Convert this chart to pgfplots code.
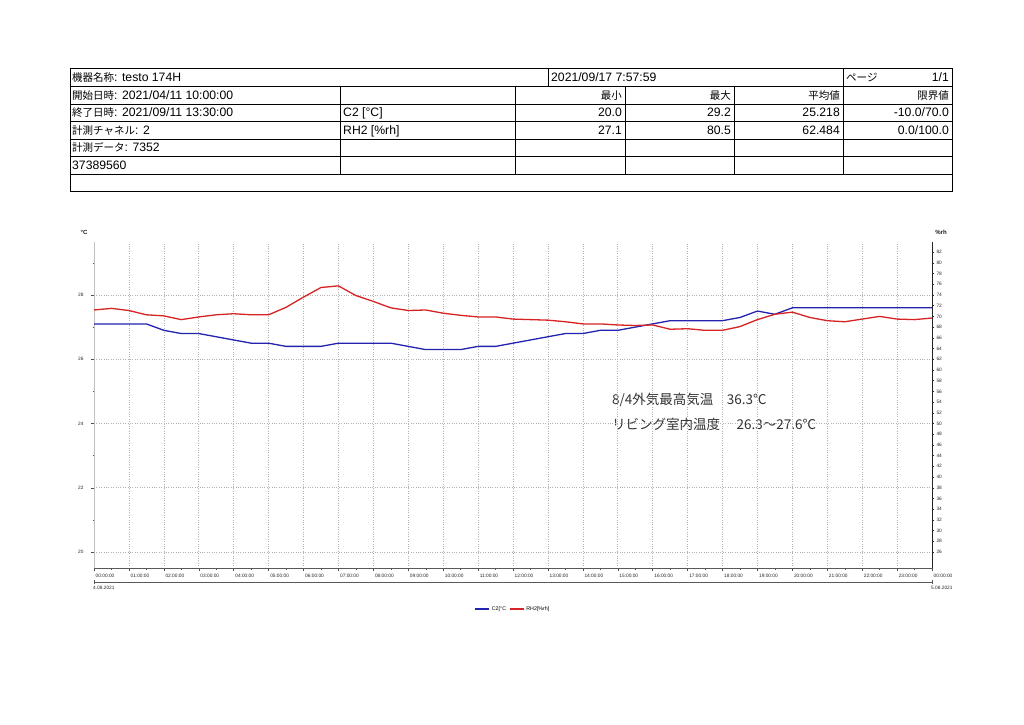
\documentclass[border=0pt]{standalone}
\usepackage{fontspec}
\setmainfont{Liberation Sans}
\newfontfamily\jp{Noto Sans CJK JP}
\usepackage{pgfplots}
\pgfplotsset{compat=1.18}
\usepackage{pgfplotstable}

\definecolor{tblue}{RGB}{35,35,175}
\definecolor{tred}{RGB}{215,35,35}

\pgfplotstableread{
h t
0 27.1
0.5 27.1
1 27.1
1.5 27.1
2 26.9
2.5 26.8
3 26.8
3.5 26.7
4 26.6
4.5 26.5
5 26.5
5.5 26.4
6 26.4
6.5 26.4
7 26.5
7.5 26.5
8 26.5
8.5 26.5
9 26.4
9.5 26.3
10 26.3
10.5 26.3
11 26.4
11.5 26.4
12 26.5
12.5 26.6
13 26.7
13.5 26.8
14 26.8
14.5 26.9
15 26.9
15.5 27.0
16 27.1
16.5 27.2
17 27.2
17.5 27.2
18 27.2
18.5 27.3
19 27.5
19.5 27.4
20 27.6
20.5 27.6
21 27.6
21.5 27.6
22 27.6
22.5 27.6
23 27.6
23.5 27.6
24 27.6
}\tempdata

\pgfplotstableread{
h rh
0 71.2
0.5 71.5
1 71.1
1.5 70.3
2 70.1
2.5 69.4
3 69.9
3.5 70.3
4 70.5
4.5 70.3
5 70.3
5.5 71.7
6 73.6
6.5 75.4
7 75.7
7.5 73.9
8 72.8
8.5 71.6
9 71.1
9.5 71.2
10 70.6
10.5 70.2
11 69.9
11.5 69.9
12 69.5
12.5 69.4
13 69.3
13.5 69.0
14 68.6
14.5 68.6
15 68.4
15.5 68.3
16 68.4
16.5 67.6
17 67.7
17.5 67.4
18 67.4
18.5 68.1
19 69.4
19.5 70.4
20 70.8
20.5 69.8
21 69.2
21.5 69.0
22 69.5
22.5 70.0
23 69.5
23.5 69.4
24 69.7
}\rhdata

\newcommand{\tf}{\fontsize{12.2}{14}\selectfont}
\newcommand{\jf}{\jp\fontsize{10.5}{12}\selectfont}
\newcommand{\tinyf}{\fontsize{4.8}{5.5}\selectfont}

\begin{document}
\begin{tikzpicture}
\begin{scope}[x=1pt,y=1pt]
\path[use as bounding box, fill=white] (0,0) rectangle (1024,724);

% ---- header table ----
\begin{scope}[line width=0.8pt]
\draw (70,656) rectangle (952,532.5);
\foreach \y in {638,620,602.5,585,567.5,550} \draw (70,\y) -- (952,\y);
\foreach \x in {340,515,625,734,843} \draw (\x,638) -- (\x,550);
\draw (548,656) -- (548,638);
\draw (843,656) -- (843,638);
\end{scope}

\begin{scope}[every node/.style={inner sep=0pt, font=\tf}]
% row 1
\node[anchor=base west] at (72,642.8) {{\jf 機器名称}: testo 174H};
\node[anchor=base west] at (551,642.8) {2021/09/17 7:57:59};
\node[anchor=base west] at (846,642.8) {\jf ページ};
\node[anchor=base east] at (949,642.8) {1/1};
% row 2
\node[anchor=base west] at (72,624.8) {{\jf 開始日時}: 2021/04/11 10:00:00};
\node[anchor=base east] at (622,624.8) {\jf 最小};
\node[anchor=base east] at (731,624.8) {\jf 最大};
\node[anchor=base east] at (840,624.8) {\jf 平均値};
\node[anchor=base east] at (949,624.8) {\jf 限界値};
% row 3
\node[anchor=base west] at (72,607) {{\jf 終了日時}: 2021/09/11 13:30:00};
\node[anchor=base west] at (343,607) {C2 [°C]};
\node[anchor=base east] at (622,607) {20.0};
\node[anchor=base east] at (731,607) {29.2};
\node[anchor=base east] at (840,607) {25.218};
\node[anchor=base east] at (949,607) {-10.0/70.0};
% row 4
\node[anchor=base west] at (72,589.5) {{\jf 計測チャネル}: 2};
\node[anchor=base west] at (343,589.5) {RH2 [\%rh]};
\node[anchor=base east] at (622,589.5) {27.1};
\node[anchor=base east] at (731,589.5) {80.5};
\node[anchor=base east] at (840,589.5) {62.484};
\node[anchor=base east] at (949,589.5) {0.0/100.0};
% row 5, 6
\node[anchor=base west] at (72,572) {{\jf 計測データ}: 7352};
\node[anchor=base west] at (72,554.5) {37389560};
\end{scope}

% axis titles
\node[font=\fontsize{6}{7}\selectfont\bfseries, text=gray!20!black] at (84,492) {°C};
\node[font=\fontsize{6}{7}\selectfont\bfseries, text=gray!20!black] at (941,492) {\%rh};

% date line below x axis
\draw[gray!70!black, line width=0.5pt] (94,142) -- (932,142);
\draw[gray!70!black, line width=0.4pt] (94,140) -- (94,144);
\draw[gray!70!black, line width=0.4pt] (932,140) -- (932,144);
\node[anchor=west, inner sep=0pt, font=\tinyf, text=gray!30!black] at (93,136) {4.08.2021};
\node[anchor=west, inner sep=0pt, font=\tinyf, text=gray!30!black] at (931,136) {5.08.2021};

% annotation
\node[anchor=west, inner sep=0pt, font=\jp\fontsize{13.5}{15}\selectfont, text=black!80] at (612,323.5) {8/4外気最高気温　36.3℃};
\node[anchor=west, inner sep=0pt, font=\jp\fontsize{13.5}{15}\selectfont, text=black!80] at (612,300) {リビング室内温度　 26.3～27.6℃};
\end{scope}

% ---- temperature axis ----
\begin{axis}[
  at={(94pt,156pt)}, anchor=south west, scale only axis,
  width=838pt, height=326pt,
  xmin=0, xmax=24, ymin=19.5, ymax=29.65,
  axis x line*=bottom, axis y line*=left,
  x axis line style={-, gray!70!black, line width=0.5pt},
  y axis line style={-, gray!50, line width=0.5pt},
  xtick={0,...,24},
  xticklabels={00:00:00,01:00:00,02:00:00,03:00:00,04:00:00,05:00:00,06:00:00,07:00:00,08:00:00,09:00:00,10:00:00,11:00:00,12:00:00,13:00:00,14:00:00,15:00:00,16:00:00,17:00:00,18:00:00,19:00:00,20:00:00,21:00:00,22:00:00,23:00:00,00:00:00},
  minor x tick num=1,
  ytick={20,22,...,28}, minor ytick={21,23,...,29},
  tick align=outside, major tick length=3pt, minor tick length=1.5pt,
  tick style={gray!60!black, line width=0.4pt},
  grid=major, grid style={dotted, gray!60, line width=0.6pt},
  ticklabel style={font=\tinyf, text=gray!30!black},
  xticklabel style={anchor=north west, inner sep=0pt, yshift=-3pt, xshift=1.5pt},
  yticklabel style={xshift=-4pt},
  /pgf/number format/assume math mode=true,
]
\addplot[tblue, line width=1.3pt] table[x=h, y=t] {\tempdata};
\end{axis}

% ---- humidity axis ----
\begin{axis}[
  at={(94pt,156pt)}, anchor=south west, scale only axis,
  width=838pt, height=326pt,
  xmin=0, xmax=24, ymin=23, ymax=83.9,
  axis x line=none, axis y line*=right,
  y axis line style={-, gray!30!black, line width=0.5pt},
  ytick={26,28,...,82},
  tick align=outside, major tick length=2pt,
  tick style={gray!30!black, line width=0.4pt},
  ticklabel style={font=\tinyf, text=gray!30!black},
  yticklabel style={xshift=-1pt},
  /pgf/number format/assume math mode=true,
  legend style={at={(0.5,-0.126)}, anchor=center, draw=none, fill=none,
    font=\fontsize{5.3}{6}\selectfont, inner sep=0pt, legend columns=2,
    /tikz/every even column/.append style={column sep=1pt}},
  legend image code/.code={\draw[#1, line width=1.3pt] (0pt,0pt) -- (14pt,0pt);},
]
\addlegendimage{tblue}
\addlegendentry{C2[°C}
\addplot[tred, line width=1.3pt] table[x=h, y=rh] {\rhdata};
\addlegendentry{RH2[\%rh]}
\end{axis}
\end{tikzpicture}
\end{document}
